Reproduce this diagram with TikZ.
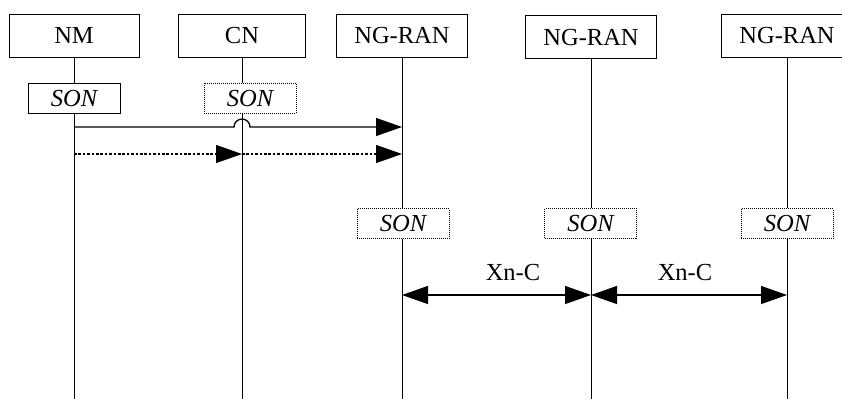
\documentclass[tikz,border=0pt]{standalone}
\usepackage{fontspec}
\setmainfont{Liberation Serif}
\usetikzlibrary{arrows.meta}
\begin{document}
\begin{tikzpicture}[x=1pt,y=-1pt,
  >={Triangle[length=26pt,width=18pt]},
  txt/.style={font=\fontsize{24.5}{28}\selectfont, text height=16pt, text depth=0pt, inner sep=0pt},
  entity/.style={txt, draw, line width=0.9pt, minimum height=43pt},
  son/.style={txt, font=\fontsize{24.5}{28}\selectfont\itshape, minimum width=92pt, minimum height=30pt},
  sonsolid/.style={son, draw, line width=0.9pt},
  sondot/.style={son, draw, line width=0.8pt, dash pattern=on 1pt off 1pt},
  life/.style={line width=0.9pt},
  msg/.style={line width=1.3pt, ->},
  msgdot/.style={line width=1.1pt, dash pattern=on 2.6pt off 1.8pt, ->},
  link/.style={line width=1.3pt, <->},
  lbl/.style={txt}]
\useasboundingbox (0,0) rectangle (842,399);

% network entities
\node[entity, minimum width=130pt] (nm)   at (74,35.5)  {NM};
\node[entity, minimum width=127pt] (cn)   at (242,35.5) {CN};
\node[entity, minimum width=131pt] (ran1) at (402,35.5) {NG-RAN};
\node[entity, minimum width=131pt] (ran2) at (591,37)   {NG-RAN};
\node[entity, minimum width=131pt] (ran3) at (787,35.5) {NG-RAN};

% SON functions
\node[sonsolid] (sonnm) at (74,98)    {SON};
\node[sondot]   (soncn) at (250,98)   {SON};
\node[sondot]   (son1)  at (403,223.5) {SON};
\node[sondot]   (son2)  at (590.5,223.5) {SON};
\node[sondot]   (son3)  at (787,223.5) {SON};

% lifeline ends
\coordinate (endnm) at (nm.south |- 0,399);
\coordinate (endcn) at (cn.south |- 0,399);
\coordinate (end1)  at (ran1.south |- 0,399);
\coordinate (end2)  at (ran2.south |- 0,399);
\coordinate (end3)  at (ran3.south |- 0,399);

% lifelines
\draw[life] (nm.south) -- (sonnm.north);
\draw[life] (sonnm.south) -- (endnm);
\draw[life] (cn.south) -- (cn.south |- soncn.north);
\draw[life] (cn.south |- soncn.south) -- (endcn);
\draw[life] (ran1.south) -- (ran1.south |- son1.north);
\draw[life] (ran1.south |- son1.south) -- (end1);
\draw[life] (ran2.south) -- (ran2.south |- son2.north);
\draw[life] (ran2.south |- son2.south) -- (end2);
\draw[life] (ran3.south) -- (ran3.south |- son3.north);
\draw[life] (ran3.south |- son3.south) -- (end3);

% message points on the lifelines
\coordinate (m1a) at (nm.south |- 0,127);
\coordinate (hop) at (cn.south |- 0,127);
\coordinate (m1b) at (ran1.south |- 0,127);
\coordinate (m2a) at (nm.south |- 0,154);
\coordinate (m2b) at (cn.south |- 0,154);
\coordinate (m2c) at (ran1.south |- 0,154);
\coordinate (x1)  at (ran1.south |- 0,295);
\coordinate (x2)  at (ran2.south |- 0,295);
\coordinate (x3)  at (ran3.south |- 0,295);

% NM -> NG-RAN, hopping over the CN lifeline
\draw[msg] (m1a) -- ([xshift=-8pt]hop) arc[start angle=180, end angle=0, radius=8pt] -- (m1b);
% NM -> CN -> NG-RAN
\draw[msgdot] (m2a) -- (m2b);
\draw[msgdot] (m2b) -- (m2c);

% Xn-C interfaces
\draw[link] (x1) -- (x2);
\draw[link] (x2) -- (x3);
\node[lbl] (xn1) at (513,272) {Xn-C};
\node[lbl] (xn2) at (685,272) {Xn-C};
\end{tikzpicture}
\end{document}
